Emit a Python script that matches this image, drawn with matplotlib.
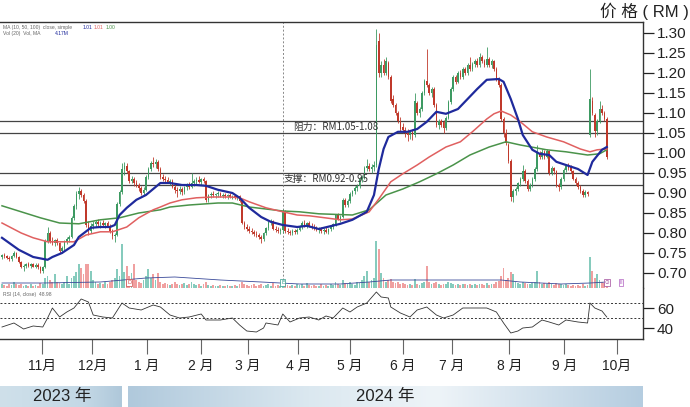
import matplotlib.pyplot as plt
import numpy as np

plt.rcParams['font.family'] = ['Liberation Sans', 'Noto Sans CJK SC']

# ---- 日K数据 ----
opens = [.740, .745, .742, .738, .735, .742, .750, .740, .728, .715,
         .718, .722, .718, .722, .716, .720, .714, .705, .715, .780,
         .800, .780, .775, .782, .775, .755, .762, .778, .785, .790,
         .838, .868, .898, .905, .895, .880, .820, .805, .818, .822,
         .828, .822, .826, .820, .825, .818, .805, .792, .795, .872,
         .902, .960, .968, .955, .930, .935, .925, .920, .912, .900,
         .908, .940, .960, .975, .972, .978, .960, .940, .935, .932,
         .928, .930, .915, .908, .905, .910, .902, .915, .920, .915,
         .925, .930, .932, .928, .935, .930, .882, .895, .898, .895,
         .897, .900, .893, .896, .892, .895, .890, .893, .888, .892,
         .880, .825, .815, .810, .806, .802, .798, .795, .790, .785,
         .800, .812, .828, .830, .810, .808, .805, .808, .855, .805,
         .802, .800, .805, .802, .808, .815, .825, .820, .826, .818,
         .815, .812, .808, .810, .805, .808, .803, .810, .815, .822,
         .845, .835, .840, .882, .870, .880, .898, .905, .912, .918,
         .935, .940, .962, .968, .960, .965, .970, 1.280, 1.200, 1.220,
         1.200, 1.225, 1.190, 1.135, 1.120, 1.100, 1.080, 1.065, 1.058, 1.050,
         1.045, 1.052, 1.045, 1.125, 1.100, 1.110, 1.150, 1.180, 1.170, 1.150,
         1.160, 1.120, 1.070, 1.080, 1.078, 1.062, 1.088, 1.128, 1.160, 1.190,
         1.178, 1.200, 1.190, 1.210, 1.200, 1.220, 1.210, 1.222, 1.230, 1.220,
         1.240, 1.230, 1.220, 1.235, 1.220, 1.230, 1.210, 1.185, 1.170, 1.085,
         1.050, 1.020, .980, .890, .905, .910, .925, .935, .955, .930,
         .910, .920, .935, .960, 1.000, .990, 1.002, .990, 1.005, .950,
         .962, .955, .920, .915, .935, .958, .968, .965, .955, .935,
         .925, .915, .905, .895, .902, 1.045, 1.130, 1.095, 1.055, 1.080,
         1.110, 1.100, 1.085]
highs = [.748, .750, .746, .742, .745, .755, .752, .742, .730, .722,
         .725, .728, .725, .726, .724, .726, .718, .718, .785, .815,
         .805, .790, .785, .788, .778, .768, .782, .790, .795, .842,
         .872, .905, .915, .910, .900, .884, .830, .825, .830, .832,
         .835, .830, .832, .828, .830, .822, .810, .800, .878, .908,
         .975, .978, .975, .958, .942, .940, .932, .925, .918, .915,
         .945, .965, .980, .990, .985, .982, .965, .948, .942, .940,
         .935, .935, .922, .915, .918, .915, .918, .925, .928, .950,
         .935, .940, .942, .938, .940, .932, .898, .902, .905, .900,
         .905, .902, .900, .900, .898, .900, .896, .897, .895, .895,
         .882, .830, .822, .818, .812, .808, .805, .800, .795, .802,
         .815, .830, .835, .832, .818, .815, .812, .860, .858, .812,
         .808, .810, .810, .812, .820, .830, .832, .828, .830, .825,
         .822, .818, .815, .816, .812, .815, .812, .818, .825, .848,
         .850, .845, .888, .888, .885, .902, .908, .918, .922, .940,
         .945, .968, .985, .975, .972, .980, 1.310, 1.300, 1.230, 1.235,
         1.240, 1.230, 1.195, 1.145, 1.125, 1.105, 1.090, 1.075, 1.065, 1.060,
         1.058, 1.060, 1.150, 1.130, 1.115, 1.155, 1.185, 1.260, 1.175, 1.165,
         1.165, 1.125, 1.085, 1.085, 1.082, 1.092, 1.132, 1.165, 1.195, 1.195,
         1.205, 1.208, 1.215, 1.215, 1.225, 1.240, 1.228, 1.235, 1.238, 1.250,
         1.245, 1.235, 1.265, 1.240, 1.235, 1.232, 1.215, 1.190, 1.175, 1.090,
         1.060, 1.025, .985, .910, .915, .928, .940, .970, .960, .935,
         .925, .940, .965, 1.020, 1.005, 1.010, 1.008, 1.010, 1.008, .968,
         .965, .958, .925, .940, .962, .972, .975, .970, .958, .940,
         .930, .920, .910, .908, .906, 1.210, 1.140, 1.100, 1.085, 1.130,
         1.120, 1.105, 1.090]
lows = [.735, .738, .735, .730, .730, .740, .738, .725, .712, .705,
        .712, .715, .712, .714, .712, .710, .700, .700, .712, .775,
        .775, .770, .768, .770, .750, .750, .758, .772, .778, .788,
        .832, .860, .885, .890, .875, .815, .795, .800, .810, .815,
        .818, .812, .818, .812, .815, .800, .785, .778, .792, .868,
        .898, .945, .950, .925, .925, .918, .915, .905, .895, .895,
        .905, .935, .955, .965, .962, .955, .935, .930, .925, .925,
        .920, .912, .900, .890, .898, .895, .898, .908, .910, .912,
        .918, .922, .925, .920, .925, .878, .878, .888, .890, .888,
        .890, .890, .888, .888, .885, .888, .885, .885, .882, .878,
        .822, .810, .805, .800, .798, .792, .790, .785, .775, .780,
        .795, .808, .820, .808, .802, .800, .798, .800, .800, .798,
        .795, .796, .798, .798, .805, .810, .815, .812, .815, .810,
        .808, .805, .800, .800, .798, .800, .798, .805, .810, .818,
        .832, .828, .838, .865, .865, .875, .892, .898, .905, .912,
        .928, .935, .955, .955, .950, .955, .965, 1.190, 1.190, 1.195,
        1.195, 1.185, 1.125, 1.115, 1.095, 1.075, 1.055, 1.050, 1.040, 1.030,
        1.035, 1.032, 1.040, 1.095, 1.090, 1.105, 1.145, 1.165, 1.145, 1.140,
        1.115, 1.065, 1.060, 1.065, 1.050, 1.058, 1.085, 1.122, 1.155, 1.172,
        1.175, 1.185, 1.185, 1.195, 1.195, 1.205, 1.205, 1.215, 1.215, 1.215,
        1.225, 1.215, 1.215, 1.215, 1.212, 1.205, 1.180, 1.165, 1.080, 1.040,
        1.020, .975, .880, .878, .895, .905, .918, .930, .925, .905,
        .905, .915, .930, .955, .985, .985, .985, .988, .945, .945,
        .948, .915, .905, .910, .930, .952, .958, .950, .932, .920,
        .910, .900, .890, .890, .892, 1.040, 1.095, 1.040, 1.045, 1.075,
        1.095, 1.080, .985]
closes = [.745, .742, .738, .735, .742, .750, .740, .728, .715, .718,
          .722, .718, .722, .716, .720, .714, .705, .715, .780, .800,
          .780, .775, .782, .775, .755, .762, .778, .785, .790, .838,
          .868, .898, .905, .895, .880, .820, .805, .818, .822, .828,
          .822, .826, .820, .825, .818, .805, .792, .795, .872, .902,
          .960, .968, .955, .930, .935, .925, .920, .912, .900, .908,
          .940, .960, .975, .972, .978, .960, .940, .935, .932, .928,
          .930, .915, .908, .905, .910, .902, .915, .920, .915, .925,
          .930, .932, .928, .935, .930, .882, .895, .898, .895, .897,
          .900, .893, .896, .892, .895, .890, .893, .888, .892, .880,
          .825, .815, .810, .806, .802, .798, .795, .790, .785, .800,
          .812, .828, .830, .810, .808, .805, .808, .855, .805, .802,
          .800, .805, .802, .808, .815, .825, .820, .826, .818, .815,
          .812, .808, .810, .805, .808, .803, .810, .815, .822, .845,
          .835, .840, .882, .870, .880, .898, .905, .912, .918, .935,
          .940, .962, .968, .960, .965, .970, 1.270, 1.200, 1.220, 1.200,
          1.230, 1.190, 1.130, 1.120, 1.100, 1.080, 1.060, 1.058, 1.050, 1.045,
          1.052, 1.045, 1.130, 1.100, 1.110, 1.150, 1.180, 1.170, 1.150, 1.160,
          1.120, 1.070, 1.080, 1.070, 1.062, 1.088, 1.128, 1.160, 1.190, 1.178,
          1.200, 1.190, 1.210, 1.200, 1.220, 1.210, 1.222, 1.230, 1.220, 1.240,
          1.230, 1.220, 1.235, 1.220, 1.230, 1.210, 1.185, 1.170, 1.085, 1.050,
          1.025, .980, .890, .905, .910, .925, .935, .955, .930, .910,
          .920, .935, .960, 1.000, .990, 1.002, .990, 1.005, .950, .962,
          .955, .920, .915, .935, .958, .968, .962, .955, .935, .925,
          .915, .905, .895, .902, .898, 1.135, 1.100, 1.055, 1.080, 1.110,
          1.100, 1.085, .990]
# 成交量 (百万股)
volumes = [2, 1.5, 1, 2, 1.5, 3, 2, 1.5, 2, 1,
           1.5, 1, 2, 1, 1.5, 1, 2.5, 2, 5, 6,
           4, 3, 7, 3, 2.5, 2, 3, 6, 2, 5,
           6, 8, 12, 10, 7, 12, 12, 8.5, 4, 3,
           2, 2.5, 2, 3, 2, 3, 4, 5, 9.5, 6,
           22, 8, 11, 6, 7.5, 12, 4, 3, 2.5, 4,
           6, 9.5, 5, 7, 4, 7.5, 3, 2, 2.5, 2,
           1.5, 2, 3, 2, 1.5, 2, 2.5, 1.5, 2, 3,
           2, 1.5, 2, 1, 2, 3, 1.5, 1, 1.5, 1,
           1, 1.5, 1, 1, 1.5, 1, 1, 1.5, 1, 2,
           3, 2, 1.5, 1, 1.5, 2, 1, 1.5, 2, 1,
           1.5, 2, 1, 2.5, 1, 1.5, 1, 4, 2.5, 1.5,
           1, 1.5, 1, 2, 1.5, 2, 1, 2.5, 1.5, 1,
           1.5, 1, 1, 2, 1, 1.5, 1, 2, 1.5, 3,
           2, 1.5, 4, 2.5, 2, 3, 2, 1.5, 3, 2.5,
           4, 6, 8.5, 3, 4, 5, 23.5, 19.5, 7.5, 5,
           3, 4, 4.5, 3, 2.5, 3, 2, 2.5, 2, 1.5,
           2, 1.5, 4.5, 2, 1.5, 2.5, 3, 11, 3, 2,
           2.5, 3, 2, 1.5, 2, 2, 3, 2.5, 2, 1.5,
           2, 1.5, 2, 2, 1.5, 2, 1.5, 2, 1.5, 2,
           2, 1.5, 2.5, 1.5, 2, 2, 3, 3.5, 6, 10,
           4, 5, 8, 7, 3, 2.5, 2, 3, 2.5, 2,
           2, 2.5, 3, 8.5, 3, 2, 2.5, 2, 3, 2,
           1.5, 2.5, 2, 2, 1.5, 2, 1.5, 1, 1.5, 1,
           1.5, 1, 2, 1, 1.5, 15.5, 8.5, 5, 7, 4,
           3, 2.5, 4]

# 均线 (读取的点: 交易日序号, 价格)
ma_short_x = [0, 7, 13, 19, 21, 25, 30, 32, 37, 41, 45, 47, 49, 52, 56, 60, 65, 66, 70, 75,
              81, 85, 90, 96, 99, 103, 108, 112, 117, 123, 127, 132, 141, 146, 152, 155, 157,
              159, 161, 165, 169, 173, 177, 181, 185, 190, 194, 198, 202, 207, 209, 212, 215,
              217, 221, 224, 228, 231, 235, 240, 244, 246, 250, 252]
ma_short_y = [.788, .758, .740, .733, .740, .750, .770, .790, .813, .815, .815, .820, .845, .863,
              .883, .895, .920, .925, .925, .920, .920, .918, .908, .900, .888, .863, .840, .828,
              .820, .815, .818, .810, .823, .833, .853, .895, .960, 1.010, 1.040, 1.053, 1.053,
              1.060, 1.078, 1.103, 1.098, 1.110, 1.135, 1.160, 1.183, 1.185, 1.178, 1.135, 1.085,
              1.045, 1.008, .998, .995, .978, .970, .960, .945, .978, 1.008, 1.015]
ma_mid_x = [0, 8, 13, 19, 25, 30, 35, 41, 46, 52, 57, 63, 66, 70, 75, 81, 88, 95, 99, 103,
            110, 117, 123, 128, 132, 141, 146, 153, 157, 162, 167, 173, 178, 185, 191, 196,
            202, 205, 208, 212, 216, 221, 227, 234, 241, 245, 248, 252]
ma_mid_y = [.825, .800, .788, .778, .778, .778, .795, .803, .803, .815, .838, .858, .865, .875,
            .883, .888, .890, .890, .888, .878, .863, .853, .845, .843, .840, .833, .835, .853,
            .885, .928, .948, .970, .990, 1.015, 1.028, 1.053, 1.085, 1.098, 1.105, 1.095, 1.078,
            1.053, 1.040, 1.028, 1.010, 1.003, 1.008, 1.010]
ma_long_x = [0, 8, 16, 24, 32, 41, 49, 57, 66, 70, 78, 90, 96, 103, 110, 117, 124, 132, 146,
             153, 160, 167, 174, 181, 188, 195, 203, 210, 216, 227, 235, 244, 249, 252]
ma_long_y = [.868, .853, .838, .825, .823, .833, .838, .850, .858, .865, .870, .875, .875, .865,
             .860, .855, .853, .848, .845, .858, .895, .910, .928, .948, .970, .995, 1.015, 1.028,
             1.020, 1.008, 1.003, .995, .998, 1.008]
vol_ma_x = [0, 17, 41, 60, 72, 91, 108, 124, 141, 153, 162, 187, 208, 216, 233, 245, 252]
vol_ma_y = [2.5, 2.5, 3, 5, 5.5, 4, 3, 2, 2, 3, 4, 4, 4, 3, 2, 2.5, 3]

# RSI
rsi_x = [0, 5, 9, 13, 17, 19, 21, 24, 27, 30, 33, 36, 38, 42, 46, 50, 53, 58, 63, 66, 70, 74,
         78, 83, 85, 91, 96, 99, 102, 106, 109, 110, 115, 117, 120, 124, 128, 132, 135, 138,
         142, 145, 148, 152, 156, 158, 161, 162, 166, 170, 173, 177, 181, 184, 188, 192, 196,
         202, 206, 209, 212, 215, 217, 221, 225, 228, 232, 235, 240, 244, 245, 247, 250, 252]
rsi_y = [41, 45, 39, 42, 41, 50, 60, 51, 56, 60, 69, 66, 53, 51, 50, 65, 60, 58, 63, 61, 53, 50,
         51, 54, 48, 48, 50, 43, 37, 36, 40, 45, 43, 54, 46, 50, 51, 48, 52, 50, 60, 56, 61, 65,
         76, 71, 70, 61, 55, 51, 58, 61, 53, 50, 53, 60, 60, 60, 56, 45, 35, 37, 40, 41, 48, 46,
         43, 48, 46, 45, 65, 60, 57, 51]

price_ticks = [0.70, 0.75, 0.80, 0.85, 0.90, 0.95, 1.00, 1.05, 1.10, 1.15, 1.20, 1.25, 1.30]
rsi_ticks = [40, 60]
rsi_levels = [65, 50]
sr_levels = [1.08, 1.05, 0.95, 0.92]
month_pos = [16.5, 37.6, 60.4, 82.9, 102.4, 123.5, 145.0, 167.0, 187.4, 211.4, 234.3, 256.1]
month_labels = ['11月', '12月', '1 月', '2 月', '3 月', '4 月', '5 月', '6 月', '7 月', '8 月', '9 月', '10月']
mark_day = 117

W, H = 690, 407
fig = plt.figure(figsize=(W / 100, H / 100), dpi=100)


def fy(py):
    return 1 - py / H


ax = fig.add_axes([0, fy(288), 643 / W, (288 - 22) / H])
ax_rsi = fig.add_axes([0, fy(339), 643 / W, (339 - 288) / H], sharex=ax)
# 成交量画在同一框内的副轴 (先建, twinx 会把主轴刻度挪到左边)
ax_vol = ax.twinx()

o = np.array(opens)
c = np.array(closes)
hi = np.array(highs)
lo = np.array(lows)
idx = np.arange(len(c))
up = c >= o
up_col, dn_col = '#3d9a62', '#c0392b'
cols = np.where(up, up_col, dn_col)

# 影线 + 实体
ax.vlines(idx, lo, hi, colors=cols, lw=0.6, zorder=2)
ax.bar(idx, np.maximum(np.abs(c - o), 0.002), bottom=np.minimum(o, c),
       width=0.7, color=cols, lw=0, zorder=2)

# 均线
ax.plot(ma_long_x, ma_long_y, color='#4a934a', lw=1.1, zorder=3)
ax.plot(ma_mid_x, ma_mid_y, color='#e06060', lw=1.1, zorder=3)
ax.plot(ma_short_x, ma_short_y, color='#1f2a9c', lw=1.6, zorder=4)

# 阻力/支撑线
for lv in sr_levels:
    ax.axhline(lv, color='#444444', lw=0.9, zorder=1)
ax.text(121.3, 1.065, '阻力：RM1.05-1.08', fontsize=7, color='#333333', va='center',
        family=['Noto Sans CJK SC'])
ax.text(117.3, 0.935, '支撑：RM0.92-0.95', fontsize=7, color='#333333', va='center',
        family=['Noto Sans CJK SC'])

ax.axvline(mark_day, ymin=0.03, ymax=1, color='#888888', lw=0.7, ls=(0, (2, 2)), zorder=1)

ax.set_xlim(-0.83, 267.1)
ax.set_ylim(0.6625, 1.3275)
ax.yaxis.tick_right()
ax.set_yticks(price_ticks)
ax.set_yticklabels([f'{v:.2f}' for v in price_ticks])
ax.tick_params(axis='y', length=8, width=0.9, pad=2, labelsize=11, colors='#222222')
ax.tick_params(axis='x', bottom=False, labelbottom=False)
ax.spines['left'].set_visible(False)
ax.spines['bottom'].set_color('#cccccc')
ax.spines['bottom'].set_linewidth(0.6)
for s in ['top', 'right']:
    ax.spines[s].set_color('#333333')
    ax.spines[s].set_linewidth(1)

# 图例小字
tr = ax.transAxes
ax.text(0.005, 0.981, 'MA (10, 50, 100)  close, simple', fontsize=3.6, color='#666666',
        transform=tr, va='center')
for xf, txt, col in [(0.128, '1.01', '#1f2a9c'), (0.146, '1.01', '#e06060'), (0.164, '1.00', '#4a934a')]:
    ax.text(xf, 0.981, txt, fontsize=3.6, color=col, transform=tr, va='center')
ax.text(0.005, 0.955, 'Vol (20)  Vol, MA', fontsize=3.6, color='#666666', transform=tr, va='center')
ax.text(0.085, 0.955, '4.17M', fontsize=3.6, color='#1f2a9c', transform=tr, va='center')

# 成交量
vcols = np.where(up, '#86cbbd', '#f0a0a0')
ax_vol.bar(idx, volumes, width=0.75, color=vcols, lw=0, zorder=1)
ax_vol.plot(vol_ma_x, vol_ma_y, color='#3a4a9a', lw=0.6, zorder=2)
ax_vol.set_ylim(0, 133)
ax_vol.set_yticks([])
ax_vol.tick_params(axis='y', right=False, left=False, labelright=False, labelleft=False)
for s in ax_vol.spines.values():
    s.set_visible(False)
for pos, txt, col in [(53, 'D', '#d04848'), (mark_day, 'E', '#2f9a8a'),
                      (252, '⊙', '#a04a9a'), (258, 'Ⅱ', '#b060c0')]:
    ax_vol.text(pos, 2.6, txt, fontsize=4, color=col, ha='center', va='center',
                family=['DejaVu Sans'],
                bbox=dict(boxstyle='square,pad=0.15', fc='white', ec=col, lw=0.5))

# RSI
ax_rsi.plot(rsi_x, rsi_y, color='#333333', lw=0.6)
for lv in rsi_levels:
    ax_rsi.axhline(lv, color='#333333', lw=0.7, ls=(0, (2, 2)))
ax_rsi.text(0.005, 0.88, 'RSI (14, close)  48.98', fontsize=3.6, color='#666666',
            transform=ax_rsi.transAxes, va='center')
ax_rsi.set_ylim(29, 80)
ax_rsi.yaxis.tick_right()
ax_rsi.set_yticks(rsi_ticks)
ax_rsi.tick_params(axis='y', length=8, width=0.9, pad=2, labelsize=11, colors='#222222')
ax_rsi.set_xticks(month_pos)
ax_rsi.set_xticklabels(month_labels, family=['Liberation Sans', 'Noto Sans CJK SC'])
ax_rsi.tick_params(axis='x', direction='out', length=11, width=0.8, color='#666666',
                   pad=3, labelsize=10, labelcolor='#222222')
ax_rsi.spines['left'].set_visible(False)
ax_rsi.spines['top'].set_visible(False)
for s in ['bottom', 'right']:
    ax_rsi.spines[s].set_color('#333333')
    ax_rsi.spines[s].set_linewidth(1)

# 标题
fig.text(689 / W, fy(11), '价 格 ( RM )', ha='right', va='center', fontsize=12, color='#222222')

# 年份色带
ax_band = fig.add_axes([0, 0, 1, 21 / H])
ax_band.set_xlim(0, W)
ax_band.set_ylim(0, 1)
ax_band.axis('off')


def gradient(x0, x1, stops):
    n = 200
    t = np.linspace(0, 1, n)
    pos = [p for p, _ in stops]
    rgb = np.array([[int(col[i:i + 2], 16) / 255 for i in (1, 3, 5)] for _, col in stops])
    img = np.stack([np.interp(t, pos, rgb[:, k]) for k in range(3)], axis=-1)[None, :, :]
    ax_band.imshow(img, extent=(x0, x1, 0, 1), aspect='auto', interpolation='bilinear')


gradient(0, 122, [(0, '#cfe0ea'), (0.7, '#c3d8e6'), (1, '#afc8da')])
gradient(128, 643, [(0, '#b0c9dc'), (0.35, '#dbe8f0'), (0.6, '#eef4f8'), (1, '#b5cde0')])
ax_band.set_xlim(0, W)
ax_band.text(62, 0.5, '2023 年', ha='center', va='center', fontsize=12, color='#222222')
ax_band.text(385, 0.5, '2024 年', ha='center', va='center', fontsize=12, color='#222222')

fig.savefig('out.png', dpi=100)
